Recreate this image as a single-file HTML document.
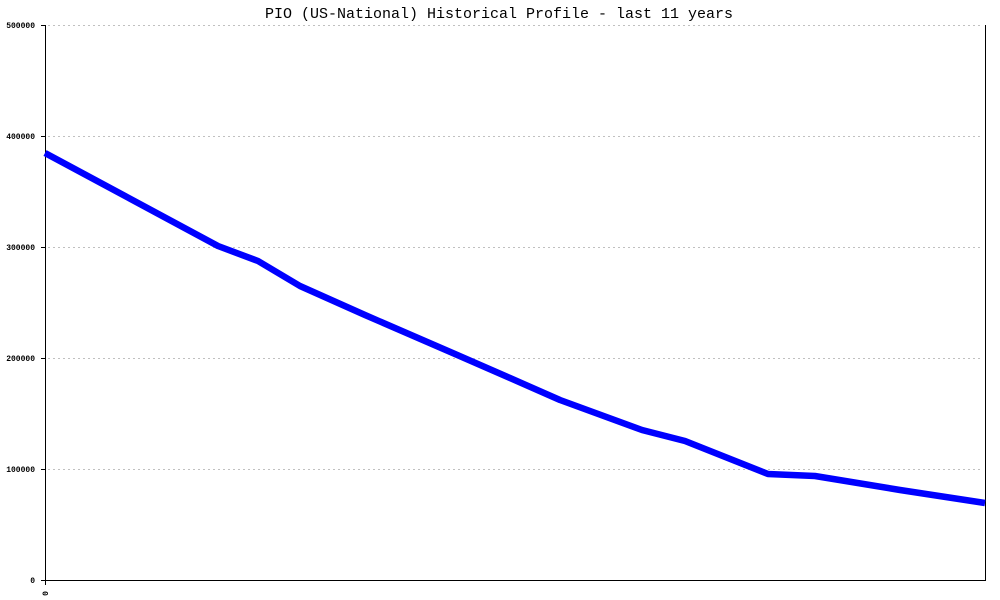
<!DOCTYPE html>
<html><head><meta charset="utf-8"><style>
html,body{margin:0;padding:0;background:#fff;}
svg{display:block;}
</style></head><body>
<svg width="1000" height="600" xmlns="http://www.w3.org/2000/svg">
<rect width="1000" height="600" fill="#fff"/>
<text x="499" y="18" font-family="Liberation Mono, monospace" font-size="15" text-anchor="middle" fill="#000">PIO (US-National) Historical Profile - last 11 years</text>
<g stroke="#c0c0c0" stroke-width="1" stroke-dasharray="2,3" shape-rendering="crispEdges">
<line x1="48" y1="25.5" x2="983" y2="25.5"/>
<line x1="48" y1="136.5" x2="983" y2="136.5"/>
<line x1="48" y1="247.5" x2="983" y2="247.5"/>
<line x1="48" y1="358.5" x2="983" y2="358.5"/>
<line x1="48" y1="469.5" x2="983" y2="469.5"/>
</g>
<g stroke="#000" stroke-width="1" shape-rendering="crispEdges">
<line x1="45.5" y1="25" x2="45.5" y2="585"/>
<line x1="41" y1="580.5" x2="986" y2="580.5"/>
<line x1="985.5" y1="25" x2="985.5" y2="581"/>
<line x1="41" y1="25.5" x2="45" y2="25.5"/>
<line x1="41" y1="136.5" x2="45" y2="136.5"/>
<line x1="41" y1="247.5" x2="45" y2="247.5"/>
<line x1="41" y1="358.5" x2="45" y2="358.5"/>
<line x1="41" y1="469.5" x2="45" y2="469.5"/>
</g>
<g font-family="Liberation Mono, monospace" font-size="8" font-weight="bold" text-anchor="end" fill="#000">
<text x="35" y="28">500000</text>
<text x="35" y="139">400000</text>
<text x="35" y="250">300000</text>
<text x="35" y="361">200000</text>
<text x="35" y="472">100000</text>
<text x="35" y="583">0</text>
</g>
<text transform="translate(48,591) rotate(-90)" font-family="Liberation Mono, monospace" font-size="8" font-weight="bold" text-anchor="end" fill="#000">0</text>
<polyline fill="none" stroke="#0000ff" stroke-width="6.5" stroke-linejoin="round" points="45,153 218,246 258,261 300,286 365,315 455,354 510,378 560,400 642,430 685,441 768,474 815,476 900,490 985,503"/>
</svg>
</body></html>
